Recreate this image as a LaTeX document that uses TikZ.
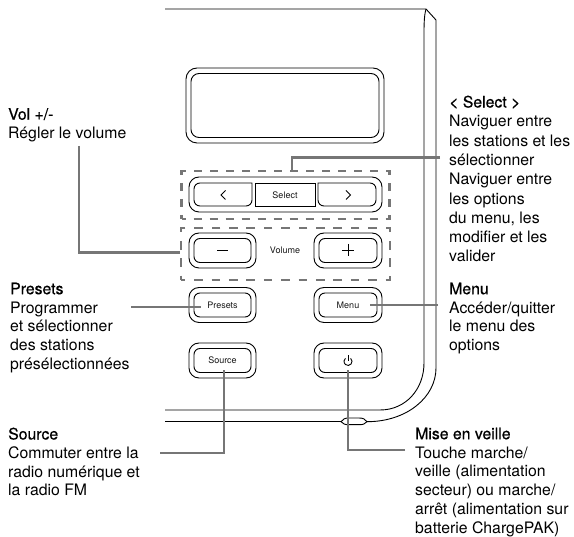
\documentclass[tikz,border=0pt]{standalone}
\usepackage{fontspec}
\setmainfont{TeX Gyre Heros}
\newfontfamily\titlefont[FakeBold=0.6]{TeX Gyre Heros}
\newcommand{\heading}[1]{{\titlefont #1}}
\definecolor{leadgray}{RGB}{118,118,118}
\tikzset{
  devline/.style={black, line width=0.9pt},
  leader/.style={leadgray, line width=2.3pt},
  groupbox/.style={draw=leadgray, line width=2.4pt, inner sep=0pt},
  btnouter/.style={draw, devline, rounded corners=10pt, inner sep=0pt, minimum width=67pt, minimum height=35pt},
  btninner/.style={draw, devline, rounded corners=6pt, inner sep=0pt, minimum width=57pt, minimum height=24pt},
  keytext/.style={inner sep=0pt, text=black!90, font=\fontsize{9}{11}\selectfont},
  infotext/.style={anchor=north west, align=left, inner sep=0pt, font=\fontsize{15.8}{18.8}\selectfont}
}
\begin{document}
\begin{tikzpicture}[x=1pt,y=-1pt]

      \useasboundingbox (0,0) rectangle (574,537);

      \draw[devline] (165,9) -- (426,9) -- (436,20) -- (436,368) .. controls (436,397) and (407,421.7) .. (367,421.7);
      \draw[devline] (341,421.7) -- (165,421.7);
      \draw[devline] (426,9) .. controls (424.5,14) and (424,22) .. (424,32) -- (424,363) .. controls (424,389) and (406,410) .. (380,410) -- (165,410);
      \draw[devline] (341,421.7) .. controls (343,419) and (345,418) .. (349,418) -- (359,418) .. controls (363,418) and (365,419) .. (367,421.7) .. controls (365,424) and (363,424.7) .. (359,424.7) -- (349,424.7) .. controls (345,424.7) and (343,424) .. (341,421.7) -- cycle;

      \node[draw, devline, rounded corners=11pt, inner sep=0pt, minimum width=198pt, minimum height=75pt] (displayouter) at (285,105.5) {};
      \node[draw, devline, rounded corners=8pt, inner sep=0pt, minimum width=188pt, minimum height=64pt] (displayinner) at (285,105.5) {};

      \node[groupbox, dash pattern=on 8pt off 8pt, dash phase=4pt, minimum width=208pt, minimum height=48pt] (selectgroup) at (285.5,195) {};
      \node[groupbox, dash pattern=on 8.7pt off 8.7pt, dash phase=4.35pt, minimum width=208.8pt, minimum height=52.2pt] (volgroup) at (285.5,254) {};

      \node[btnouter, minimum width=193pt] (selectouter) at (285.5,194.5) {};
      \node[draw, devline, inner sep=0pt, minimum width=60pt, minimum height=23pt] (selectkey) at (285,194.5) {};
      \node[keytext] (selecttext) at (285,195) {Select};
      \draw[devline] (252,183) [rounded corners=6pt] -- (194,183) -- (194,206) -- (252,206) [sharp corners] -- cycle;
      \draw[devline] (318,183) [rounded corners=6pt] -- (376,183) -- (376,206) -- (318,206) [sharp corners] -- cycle;
      \draw[devline] (225.5,190.5) -- (221,195) -- (225.5,199.5);
      \draw[devline] (346,190.5) -- (350.5,195) -- (346,199.5);

      \node[btnouter] (minusouter) at (222.5,250.5) {};
      \node[btninner] (minusinner) at (222.5,250.5) {};
      \draw[devline] (217,250) -- (228,250);
      \node[keytext] (voltext) at (285,250) {Volume};
      \node[btnouter, minimum width=68pt] (plusouter) at (348,250.5) {};
      \node[btninner, minimum width=58pt] (plusinner) at (348,250.5) {};
      \draw[devline] (342,250) -- (354,250) (348,244) -- (348,256);

      \node[btnouter] (presetsouter) at (222.5,305) {};
      \node[btninner] (presetsinner) at (222.5,305) {};
      \node[keytext, inner xsep=6pt] (presetstext) at (222.5,305) {Presets};
      \node[btnouter, minimum width=68pt] (menuouter) at (348,305) {};
      \node[btninner, minimum width=58pt] (menuinner) at (348,305) {};
      \node[keytext, inner xsep=11pt] (menutext) at (348,305) {Menu};

      \node[btnouter] (sourceouter) at (222.5,360.5) {};
      \node[btninner] (sourceinner) at (222.5,360.5) {};
      \node[keytext, minimum height=19pt] (sourcetext) at (222.5,360) {Source};
      \node[btnouter, minimum width=68pt] (powerouter) at (348,360.5) {};
      \node[btninner, minimum width=58pt] (powerinner) at (348,360.5) {};
      \node[inner sep=0pt, minimum size=19pt] (powericon) at (348,360.5) {};
      \draw[line width=0.9pt] (350.6,358.4) arc[start angle=-50, end angle=230, radius=4];
      \draw[line width=0.9pt] (348,355.5) -- (348,361);

      \node[infotext] (volinfo) at (8,108) {\heading{Vol +/-}\\Régler le volume};
      \node[infotext] (presetsinfo) at (10,282.5) {\heading{Presets}\\Programmer\\et sélectionner\\des stations\\présélectionnées};
      \node[infotext] (sourceinfo) at (8,427.5) {\heading{Source}\\Commuter entre la\\radio numérique et\\la radio FM};
      \node[infotext, font=\fontsize{15.8}{19.3}\selectfont] (selectinfo) at (449,95.5) {\heading{< Select >}\\Naviguer entre\\les stations et les\\sélectionner\\Naviguer entre\\les options\\du menu, les\\modifier et les\\valider};
      \node[infotext] (menuinfo) at (449,282.5) {\heading{Menu}\\Accéder/quitter\\le menu des\\options};
      \node[infotext] (powerinfo) at (415,427.5) {\heading{Mise en veille}\\Touche marche/\\veille (alimentation\\secteur) ou marche/\\arrêt (alimentation sur\\batterie ChargePAK)};

      \coordinate (volend) at (79,146);
      \coordinate (presetsend) at (131,307);
      \coordinate (sourceend) at (160,453);
      \coordinate (selectend) at (440,157.5);
      \coordinate (menuend) at (438,305);
      \coordinate (powerend) at (405,450);

      \draw[leader] (volend) |- ([yshift=1.5pt]volgroup.west);
      \draw[leader] (presetsend) -- (presetsend -| presetstext.west);
      \draw[leader] (sourceend) -| ([xshift=1.5pt]sourcetext.south);
      \draw[leader] (selectend) -| ([xshift=6.5pt]selectgroup.north);
      \draw[leader] (menuend) -- (menutext.east);
      \draw[leader] (powerend) -| (powericon.south);

    \end{tikzpicture}
\end{document}
